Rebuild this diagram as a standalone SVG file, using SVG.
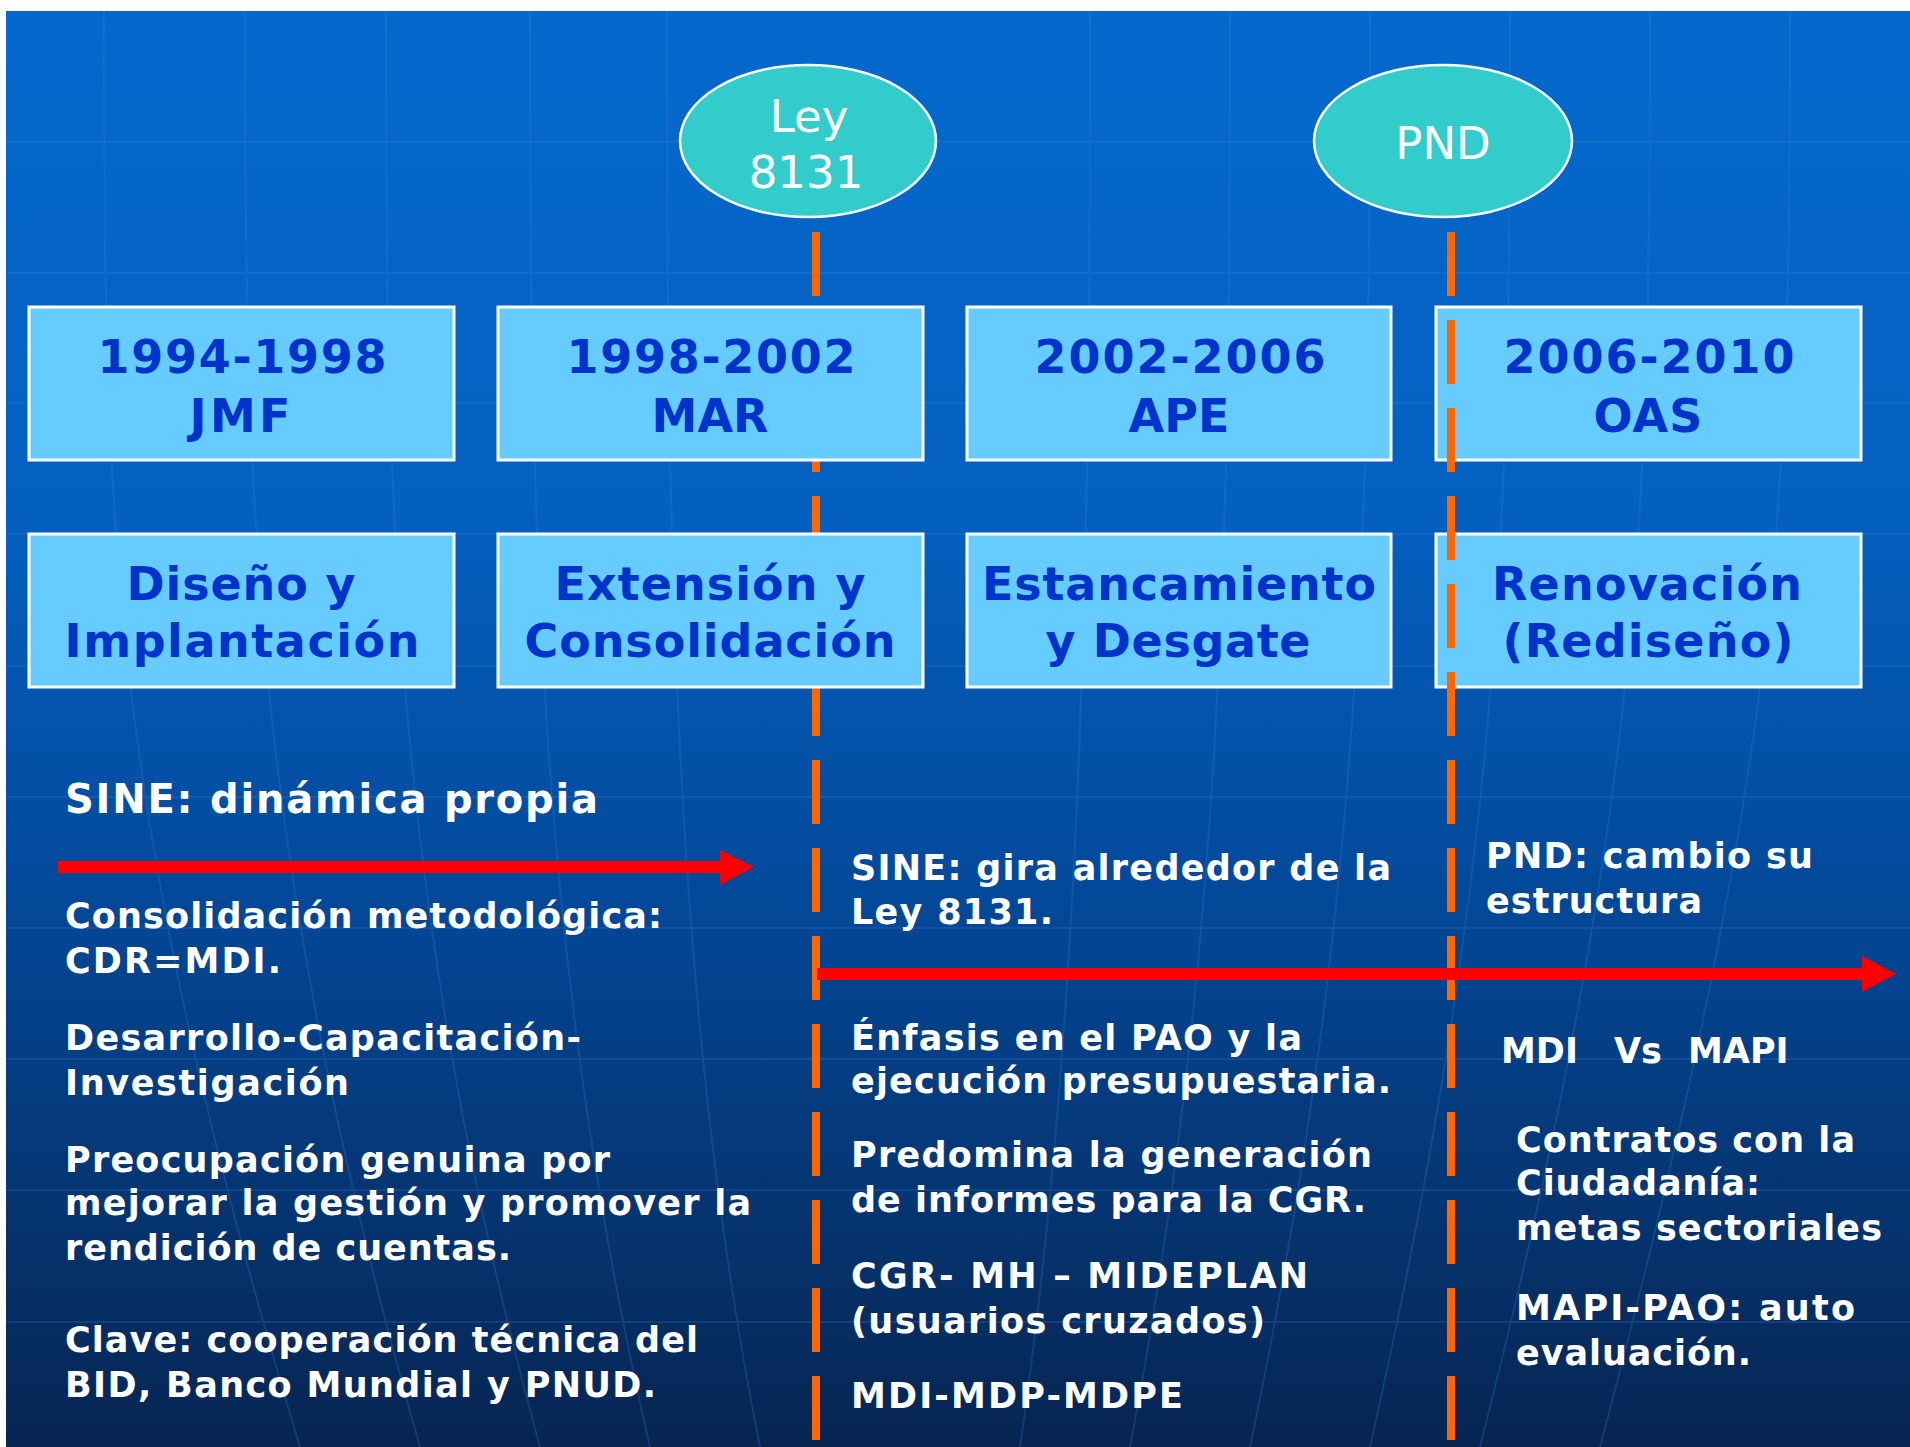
<svg xmlns="http://www.w3.org/2000/svg" width="1910" height="1447" viewBox="0 0 1910 1447">
<defs>
<linearGradient id="bg" x1="0" y1="0" x2="0" y2="1">
<stop offset="0" stop-color="#0469CD"/>
<stop offset="0.35" stop-color="#0460C0"/>
<stop offset="0.6" stop-color="#034A9C"/>
<stop offset="1" stop-color="#072552"/>
</linearGradient>
<style>
.box{fill:#66CCFF;stroke:#FFFFFF;stroke-width:3}
.hd{font-family:"DejaVu Sans","Verdana",sans-serif;font-weight:bold;font-size:46px;fill:#0033CC;text-anchor:middle}
.ell{fill:#33CCCC;stroke:#FFFFFF;stroke-width:2.5}
.et{font-family:"DejaVu Sans",sans-serif;font-size:45px;fill:#FFFFFF;text-anchor:middle}
.bt{font-family:"DejaVu Sans","Verdana",sans-serif;font-weight:bold;font-size:35px;fill:#FFFFFF}
.big{font-size:40px}
.dash{stroke:#FF6600;stroke-width:8;stroke-dasharray:64 24;fill:none}
.grid{stroke:#3C86DA;stroke-width:2;fill:none;opacity:0.22}
.arrow{fill:#FF0000}
</style>
</defs>
<rect x="0" y="0" width="1910" height="1447" fill="#FFFFFF"/>
<rect x="6" y="11" width="1904" height="1436" fill="url(#bg)"/>
<g id="globe-lines" class="grid">
<path d="M6 142H1910M6 273H1910M6 403H1910M6 534H1910M6 666H1910M6 797H1910M6 928H1910M6 1059H1910M6 1190H1910M6 1322H1910"/>
<path d="M104 11C104 500 104 800 300 1447"/>
<path d="M245 11C245 500 250 850 420 1447"/>
<path d="M386 11C386 500 390 900 540 1447"/>
<path d="M530 11C530 500 535 950 650 1447"/>
<path d="M667 11C667 500 670 1000 760 1447"/>
<path d="M1090 11C1090 500 1085 1000 1020 1447"/>
<path d="M1230 11C1230 500 1225 950 1130 1447"/>
<path d="M1370 11C1370 500 1365 900 1250 1447"/>
<path d="M1510 11C1510 500 1505 850 1370 1447"/>
<path d="M1650 11C1650 500 1645 800 1480 1447"/>
<path d="M1790 11C1790 500 1785 750 1600 1447"/>
</g>
<g id="connectors">
<line id="ley-line" class="dash" x1="816" y1="232" x2="816" y2="1447"/>
</g>
<g id="ley">
<ellipse class="ell" cx="808" cy="141" rx="128" ry="76"/>
<text class="et" x="809" y="132">Ley</text>
<text class="et" x="806" y="188">8131</text>
</g>
<g id="pnd">
<ellipse class="ell" cx="1443" cy="141" rx="129" ry="76"/>
<text class="et" x="1443" y="159">PND</text>
</g>
<g id="p1994">
<rect class="box" x="29" y="307" width="425" height="153"/>
<text class="hd" x="242" y="373" textLength="289" lengthAdjust="spacing">1994-1998</text>
<text class="hd" x="240" y="432" textLength="101" lengthAdjust="spacing">JMF</text>
</g>
<g id="p1998">
<rect class="box" x="498" y="307" width="425" height="153"/>
<text class="hd" x="711" y="373" textLength="289" lengthAdjust="spacing">1998-2002</text>
<text class="hd" x="710" y="432" textLength="117" lengthAdjust="spacing">MAR</text>
</g>
<g id="p2002">
<rect class="box" x="967" y="307" width="424" height="153"/>
<text class="hd" x="1180" y="373" textLength="291" lengthAdjust="spacing">2002-2006</text>
<text class="hd" x="1179" y="432" textLength="101" lengthAdjust="spacing">APE</text>
</g>
<g id="p2006">
<rect class="box" x="1436" y="307" width="425" height="153"/>
<text class="hd" x="1649" y="373" textLength="291" lengthAdjust="spacing">2006-2010</text>
<text class="hd" x="1648" y="432" textLength="109" lengthAdjust="spacing">OAS</text>
</g>
<g id="f1">
<rect class="box" x="29" y="534" width="425" height="153"/>
<text class="hd" x="241" y="600" textLength="229" lengthAdjust="spacing">Diseño y</text>
<text class="hd" x="242" y="657" textLength="355" lengthAdjust="spacing">Implantación</text>
</g>
<g id="f2">
<rect class="box" x="498" y="534" width="425" height="153"/>
<text class="hd" x="710" y="600" textLength="311" lengthAdjust="spacing">Extensión y</text>
<text class="hd" x="710" y="657" textLength="371" lengthAdjust="spacing">Consolidación</text>
</g>
<g id="f3">
<rect class="box" x="967" y="534" width="424" height="153"/>
<text class="hd" x="1179" y="600" textLength="394" lengthAdjust="spacing">Estancamiento</text>
<text class="hd" x="1178" y="657" textLength="265" lengthAdjust="spacing">y Desgate</text>
</g>
<g id="f4">
<rect class="box" x="1436" y="534" width="425" height="153"/>
<text class="hd" x="1647" y="600" textLength="310" lengthAdjust="spacing">Renovación</text>
<text class="hd" x="1648" y="657" textLength="291" lengthAdjust="spacing">(Rediseño)</text>
</g>
<g id="connectors-front">
<line id="pnd-line" class="dash" x1="1451" y1="232" x2="1451" y2="1447"/>
<path id="arrow1" class="arrow" d="M58 861H720V850L754 867L720 885V873H58Z"/>
<path id="arrow2" class="arrow" d="M817 968H1862V956L1896 974L1862 992V980H817Z"/>
</g>
<g id="col1">
<text class="bt big" x="65" y="813" textLength="533" lengthAdjust="spacing">SINE: dinámica propia</text>
<text class="bt" x="65" y="928" textLength="597" lengthAdjust="spacing">Consolidación metodológica:</text>
<text class="bt" x="65" y="973" textLength="216" lengthAdjust="spacing">CDR=MDI.</text>
<text class="bt" x="65" y="1050" textLength="516" lengthAdjust="spacing">Desarrollo-Capacitación-</text>
<text class="bt" x="65" y="1095" textLength="284" lengthAdjust="spacing">Investigación</text>
<text class="bt" x="65" y="1172" textLength="545" lengthAdjust="spacing">Preocupación genuina por</text>
<text class="bt" x="65" y="1215" textLength="686" lengthAdjust="spacing">mejorar la gestión y promover la</text>
<text class="bt" x="65" y="1260" textLength="446" lengthAdjust="spacing">rendición de cuentas.</text>
<text class="bt" x="65" y="1352" textLength="633" lengthAdjust="spacing">Clave: cooperación técnica del</text>
<text class="bt" x="65" y="1397" textLength="591" lengthAdjust="spacing">BID, Banco Mundial y PNUD.</text>
</g>
<g id="col2">
<text class="bt" x="851" y="880" textLength="540" lengthAdjust="spacing">SINE: gira alrededor de la</text>
<text class="bt" x="851" y="924" textLength="202" lengthAdjust="spacing">Ley 8131.</text>
<text class="bt" x="851" y="1050" textLength="451" lengthAdjust="spacing">Énfasis en el PAO y la</text>
<text class="bt" x="851" y="1093" textLength="540" lengthAdjust="spacing">ejecución presupuestaria.</text>
<text class="bt" x="851" y="1167" textLength="521" lengthAdjust="spacing">Predomina la generación</text>
<text class="bt" x="851" y="1212" textLength="515" lengthAdjust="spacing">de informes para la CGR.</text>
<text class="bt" x="851" y="1288" textLength="457" lengthAdjust="spacing">CGR- MH – MIDEPLAN</text>
<text class="bt" x="851" y="1333" textLength="414" lengthAdjust="spacing">(usuarios cruzados)</text>
<text class="bt" x="851" y="1408" textLength="332" lengthAdjust="spacing">MDI-MDP-MDPE</text>
</g>
<g id="col3">
<text class="bt" x="1486" y="868" textLength="327" lengthAdjust="spacing">PND: cambio su</text>
<text class="bt" x="1486" y="913" textLength="216" lengthAdjust="spacing">estructura</text>
<text class="bt" y="1063"><tspan x="1501">MDI</tspan> <tspan x="1614">Vs</tspan> <tspan x="1688">MAPI</tspan></text>
<text class="bt" x="1516" y="1152" textLength="339" lengthAdjust="spacing">Contratos con la</text>
<text class="bt" x="1516" y="1195" textLength="244" lengthAdjust="spacing">Ciudadanía:</text>
<text class="bt" x="1516" y="1240" textLength="366" lengthAdjust="spacing">metas sectoriales</text>
<text class="bt" x="1516" y="1320" textLength="339" lengthAdjust="spacing">MAPI-PAO: auto</text>
<text class="bt" x="1516" y="1365" textLength="235" lengthAdjust="spacing">evaluación.</text>
</g>
</svg>
